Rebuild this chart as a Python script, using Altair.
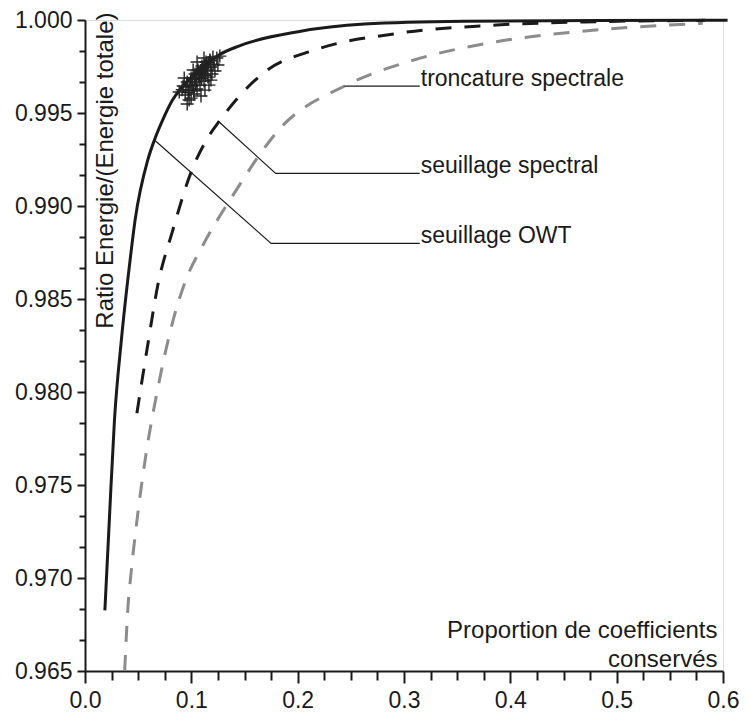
import altair as alt
import pandas as pd

# ---- data ----
owt_x = [0.0187, 0.0231, 0.0277, 0.0342, 0.0424, 0.0471, 0.0590, 0.0653, 0.0730, 0.0823,
         0.0917, 0.1259, 0.1446, 0.2005, 0.2627, 0.3560, 0.4803, 0.6043]
owt_y = [0.96826, 0.97337, 0.97848, 0.98279, 0.98709, 0.98924, 0.99247, 0.99355, 0.99462, 0.99570,
         0.99641, 0.99812, 0.99860, 0.99937, 0.99978, 0.99993, 0.99997, 0.99999]

spec_x = [0.0488, 0.0588, 0.0685, 0.0823, 0.0998, 0.1147, 0.1259, 0.1446, 0.1694, 0.2161,
          0.2938, 0.3870, 0.4803, 0.5830]
spec_y = [0.97886, 0.98246, 0.98575, 0.98865, 0.99182, 0.99360, 0.99453, 0.99587, 0.99722, 0.99839,
          0.99928, 0.99973, 0.99991, 0.99998]

tronc_x = [0.0373, 0.0404, 0.0436, 0.0497, 0.0575, 0.0676, 0.0809, 0.0948, 0.1110, 0.1383,
           0.1849, 0.2441, 0.3093, 0.3870, 0.4803, 0.5810]
tronc_y = [0.96500, 0.96843, 0.97042, 0.97348, 0.97671, 0.97994, 0.98343, 0.98601, 0.98790, 0.99050,
           0.99426, 0.99645, 0.99785, 0.99883, 0.99946, 0.99982]

pts_x = [0.0886, 0.0923, 0.0942, 0.0961, 0.0979, 0.0979, 0.0998, 0.1007, 0.1026, 0.1035,
         0.1044, 0.1054, 0.1063, 0.1072, 0.1082, 0.1091, 0.1100, 0.1110, 0.1119, 0.1128,
         0.1138, 0.1147, 0.1156, 0.1166, 0.1175, 0.1184, 0.1194, 0.1203, 0.1212, 0.1222,
         0.1240, 0.1250, 0.1268, 0.0961, 0.1017, 0.1054, 0.1119, 0.0933, 0.1184, 0.0998,
         0.0951, 0.0989, 0.1012, 0.1031, 0.1049, 0.1068, 0.1086, 0.1105, 0.1124, 0.1142,
         0.1161, 0.1180, 0.0970, 0.1040, 0.1077, 0.1096, 0.1133, 0.1152, 0.0914, 0.1021]
pts_y = [0.99613, 0.99645, 0.99597, 0.99667, 0.99623, 0.99570, 0.99688, 0.99645, 0.99602, 0.99710,
         0.99667, 0.99629, 0.99731, 0.99688, 0.99650, 0.99591, 0.99753, 0.99710, 0.99672, 0.99623,
         0.99774, 0.99731, 0.99693, 0.99650, 0.99785, 0.99747, 0.99710, 0.99801, 0.99763, 0.99726,
         0.99796, 0.99758, 0.99806, 0.99548, 0.99731, 0.99774, 0.99796, 0.99688, 0.99677, 0.99580,
         0.99640, 0.99655, 0.99680, 0.99690, 0.99700, 0.99715, 0.99722, 0.99740, 0.99745, 0.99760,
         0.99770, 0.99780, 0.99610, 0.99650, 0.99705, 0.99685, 0.99700, 0.99745, 0.99625, 0.99620]

lead_group = ["t", "t", "s", "s", "s", "o", "o", "o"]
lead_order = [0, 1, 0, 1, 2, 0, 1, 2]
lead_x = [0.2441, 0.3148, 0.1259, 0.1793, 0.3148, 0.0653, 0.1750, 0.3148]
lead_y = [0.99645, 0.99645, 0.99453, 0.99175, 0.99175, 0.99355, 0.98799, 0.98799]

lab_text = ["troncature spectrale", "seuillage spectral", "seuillage OWT"]
lab_x = [0.3148, 0.3148, 0.3148]
lab_y = [0.99645, 0.99175, 0.98799]

x_major = [0.0, 0.1, 0.2, 0.3, 0.4, 0.5, 0.6]
x_ticks = [round(i * 0.025, 4) for i in range(25)]
y_major = [0.965, 0.970, 0.975, 0.980, 0.985, 0.990, 0.995, 1.000]
y_ticks = [round(0.965 + i * 0.005 / 3, 6) for i in range(22)]

INK = "#1a1a1a"
FONT = "Liberation Sans"

W = 638
x_test = "abs(datum.value*10 - round(datum.value*10)) < 0.001"
y_test = "abs(datum.value*200 - round(datum.value*200)) < 0.01"

x_axis = alt.Axis(
    values=x_ticks,
    labelExpr=f"{x_test} ? format(datum.value, '.1f') : ''",
    tickSize={"condition": {"test": x_test, "value": 12}, "value": 9},
    title=["Proportion de coefficients", "conservés"],
    titleX=W - 6, titleY=-34, titleAlign="right", titleBaseline="alphabetic",
    titleLineHeight=29, titleFontSize=24, titleFont=FONT, titleFontWeight="normal",
    titleColor=INK,
    labelFont=FONT, labelFontSize=23, labelColor=INK, labelPadding=6,
    labelFlush=False, labelOverlap=False, labelBaseline="top",
    grid=False, domainWidth=2, domainColor=INK, tickWidth=2, tickColor=INK,
)
y_axis = alt.Axis(
    values=y_ticks,
    labelExpr=f"{y_test} ? format(datum.value, '.3f') : ''",
    tickSize={"condition": {"test": y_test, "value": 8}, "value": 6},
    title="Ratio Energie/(Energie totale)",
    titleAngle=270, titleX=27, titleY=-8, titleAlign="right", titleBaseline="alphabetic",
    titleFontSize=24, titleFont=FONT, titleFontWeight="normal", titleColor=INK,
    labelFont=FONT, labelFontSize=23, labelColor=INK, labelPadding=5,
    labelFlush=False, labelOverlap=False,
    grid=False, domainWidth=2, domainColor=INK, tickWidth=2, tickColor=INK,
)

xs = alt.Scale(domain=[0, 0.6], nice=False, zero=False)
ys = alt.Scale(domain=[0.965, 1.0], nice=False, zero=False)


def X():
    return alt.X("x:Q", scale=xs, axis=x_axis)


def Y():
    return alt.Y("y:Q", scale=ys, axis=y_axis)


owt = pd.DataFrame({"x": owt_x, "y": owt_y})
spec = pd.DataFrame({"x": spec_x, "y": spec_y})
tronc = pd.DataFrame({"x": tronc_x, "y": tronc_y})
pts = pd.DataFrame({"x": pts_x, "y": pts_y})
lead = pd.DataFrame({"g": lead_group, "o": lead_order, "x": lead_x, "y": lead_y})
labs = pd.DataFrame({"t": lab_text, "x": lab_x, "y": lab_y})

l_tronc = alt.Chart(tronc).mark_line(
    color="#8c8c8c", strokeWidth=3, strokeDash=[16, 13], interpolate="monotone", clip=False
).encode(x=X(), y=Y())
l_spec = alt.Chart(spec).mark_line(
    color=INK, strokeWidth=3, strokeDash=[16, 13], interpolate="monotone", clip=False
).encode(x=X(), y=Y())
l_owt = alt.Chart(owt).mark_line(
    color=INK, strokeWidth=3, interpolate="monotone", clip=False
).encode(x=X(), y=Y())
l_lead = alt.Chart(lead).mark_line(color=INK, strokeWidth=1.2).encode(
    x=X(), y=Y(), detail="g:N", order="o:Q"
)
t_lab = alt.Chart(labs).mark_text(
    align="left", baseline="alphabetic", dx=1, font=FONT, fontSize=23, color=INK
).encode(x=X(), y=Y(), text="t:N")
p_pts = alt.Chart(pts).mark_point(
    shape="M-1,0L1,0M0,-1L0,1", size=169, filled=False, stroke="#222222",
    strokeWidth=1.4, opacity=1
).encode(x=X(), y=Y())

chart = alt.layer(l_tronc, l_spec, l_owt, l_lead, t_lab, p_pts).properties(
    width=W, height=651,
    autosize=alt.AutoSizeParams(type="none"),
    padding={"left": 77, "top": 12, "right": 17, "bottom": 42},
).configure_view(stroke=None).configure(background="white")

chart.save("out.html", embed_options={"renderer": "svg", "actions": False})
